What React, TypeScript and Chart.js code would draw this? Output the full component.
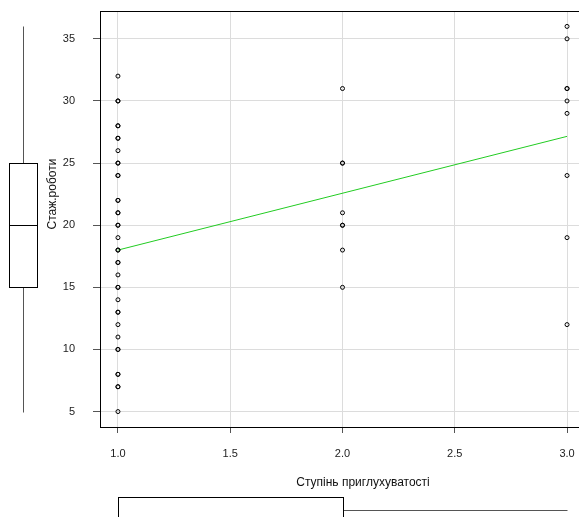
import React, { useEffect, useRef } from "react";
import { Chart, registerables } from "chart.js";

Chart.register(...registerables);

// Data
const groupX = [1, 2, 3];
const group1Y = [5, 7, 7, 8, 8, 10, 10, 11, 12, 13, 13, 14, 15, 15, 16, 17, 17, 18, 18, 19, 20, 20, 21, 21, 22, 22, 24, 24, 25, 25, 26, 27, 27, 28, 28, 30, 30, 32];
const group2Y = [15, 18, 20, 20, 21, 25, 25, 31];
const group3Y = [12, 19, 24, 29, 30, 31, 31, 35, 36];
const fitX = [1, 3];
const fitY = [18.0, 27.15];
const xTicks = [1, 1.5, 2, 2.5, 3];
const yTicks = [5, 10, 15, 20, 25, 30, 35];
// boxplot stats: [min, q1, median, q3, max]
const yBoxStats = [5, 15, 20, 25, 36];
const xBoxStats = [1, 1, 1, 2, 3];
const xTitle = "Ступінь приглухуватості";
const yTitle = "Стаж.роботи";

const FONT = "'Liberation Sans', Arial, sans-serif";

const extrasPlugin = {
  id: "extras",
  afterDraw(chart: any) {
    const { ctx, chartArea } = chart;
    const xs = chart.scales.x;
    const ys = chart.scales.y;
    ctx.save();
    // plot frame
    ctx.strokeStyle = "#000";
    ctx.lineWidth = 1;
    ctx.strokeRect(
      Math.round(chartArea.left) + 0.5,
      Math.round(chartArea.top) + 0.5,
      Math.round(chartArea.right - chartArea.left),
      Math.round(chartArea.bottom - chartArea.top)
    );

    // axis titles
    ctx.fillStyle = "#111";
    ctx.font = `12px ${FONT}`;
    ctx.textAlign = "center";
    ctx.textBaseline = "middle";
    ctx.fillText(xTitle, chartArea.left + 263, chartArea.bottom + 56);
    ctx.save();
    ctx.translate(chartArea.left - 47, chartArea.top + 183);
    ctx.rotate(-Math.PI / 2);
    ctx.fillText(yTitle, 0, 0);
    ctx.restore();

    // left boxplot (y variable)
    const cx = Math.round(chartArea.left - 77) + 0.5;
    const hw = 14;
    const [ymin, yq1, ymed, yq3, ymax] = yBoxStats.map((v) => Math.round(ys.getPixelForValue(v)) + 0.5);
    ctx.strokeStyle = "#555";
    ctx.beginPath();
    ctx.moveTo(cx, ymin);
    ctx.lineTo(cx, yq1);
    ctx.moveTo(cx, yq3);
    ctx.lineTo(cx, ymax);
    ctx.stroke();
    ctx.strokeStyle = "#000";
    ctx.strokeRect(cx - hw, yq3, hw * 2, yq1 - yq3);
    ctx.beginPath();
    ctx.moveTo(cx - hw, ymed);
    ctx.lineTo(cx + hw, ymed);
    ctx.stroke();

    // bottom boxplot (x variable)
    const cy = Math.round(chartArea.bottom + 83) + 0.5;
    const hh = 13;
    const [xmin, xq1, xmed, xq3, xmax] = xBoxStats.map((v) => Math.round(xs.getPixelForValue(v)) + 0.5);
    ctx.strokeStyle = "#555";
    ctx.beginPath();
    ctx.moveTo(xmin, cy);
    ctx.lineTo(xq1, cy);
    ctx.moveTo(xq3, cy);
    ctx.lineTo(xmax, cy);
    ctx.stroke();
    ctx.strokeStyle = "#000";
    ctx.strokeRect(xq1, cy - hh, xq3 - xq1, hh * 2);
    ctx.beginPath();
    ctx.moveTo(xmed, cy - hh);
    ctx.lineTo(xmed, cy + hh);
    ctx.stroke();
    ctx.restore();
  },
};

export default function App() {
  const canvasRef = useRef<HTMLCanvasElement | null>(null);

  useEffect(() => {
    if (!canvasRef.current) return;
    const points = [
      ...group1Y.map((y) => ({ x: groupX[0], y })),
      ...group2Y.map((y) => ({ x: groupX[1], y })),
      ...group3Y.map((y) => ({ x: groupX[2], y })),
    ];
    const fit = fitX.map((x, i) => ({ x, y: fitY[i] }));
    const chart = new Chart(canvasRef.current, {
      type: "scatter",
      data: {
        datasets: [
          {
            data: points,
            pointRadius: 2,
            pointBorderWidth: 1,
            pointBackgroundColor: "rgba(0,0,0,0)",
            pointBorderColor: "#000",
            showLine: false,
          },
          {
            data: fit,
            showLine: true,
            pointRadius: 0,
            borderColor: "#22cc22",
            borderWidth: 1,
          },
        ],
      },
      options: {
        responsive: false,
        animation: false,
        layout: { padding: { left: 40, top: 11, right: 15, bottom: 20 } },
        plugins: { legend: { display: false }, tooltip: { enabled: false } },
        scales: {
          x: {
            type: "linear",
            min: 0.92,
            max: 3.08,
            afterBuildTicks: (s: any) => {
              s.ticks = xTicks.map((v) => ({ value: v }));
            },
            afterFit: (s: any) => {
              s.height = 70;
              s.paddingLeft = 0;
              s.paddingRight = 0;
              s.paddingTop = 0;
              s.paddingBottom = 0;
            },
            ticks: {
              callback: (v: any) => Number(v).toFixed(1),
              font: { family: FONT, size: 11 },
              color: "#222",
              padding: 14,
              maxRotation: 0,
            },
            grid: { color: "#dcdcdc", tickLength: 6, tickColor: "#555", lineWidth: 1 },
            border: { display: false },
          },
          y: {
            type: "linear",
            min: 3.76,
            max: 37.24,
            afterBuildTicks: (s: any) => {
              s.ticks = yTicks.map((v) => ({ value: v }));
            },
            afterFit: (s: any) => {
              s.width = 60;
              s.paddingLeft = 0;
              s.paddingRight = 0;
              s.paddingTop = 0;
              s.paddingBottom = 0;
            },
            ticks: {
              font: { family: FONT, size: 11 },
              color: "#222",
              padding: 18,
            },
            grid: { color: "#dcdcdc", tickLength: 7, tickColor: "#555", lineWidth: 1 },
            border: { display: false },
          },
        },
      },
      plugins: [extrasPlugin],
    });
    return () => chart.destroy();
  }, []);

  return (
    <div style={{ position: "absolute", left: 0, top: 0, width: 579, height: 517, overflow: "hidden", background: "#fff" }}>
      <canvas ref={canvasRef} width={600} height={517} style={{ display: "block" }} />
    </div>
  );
}
